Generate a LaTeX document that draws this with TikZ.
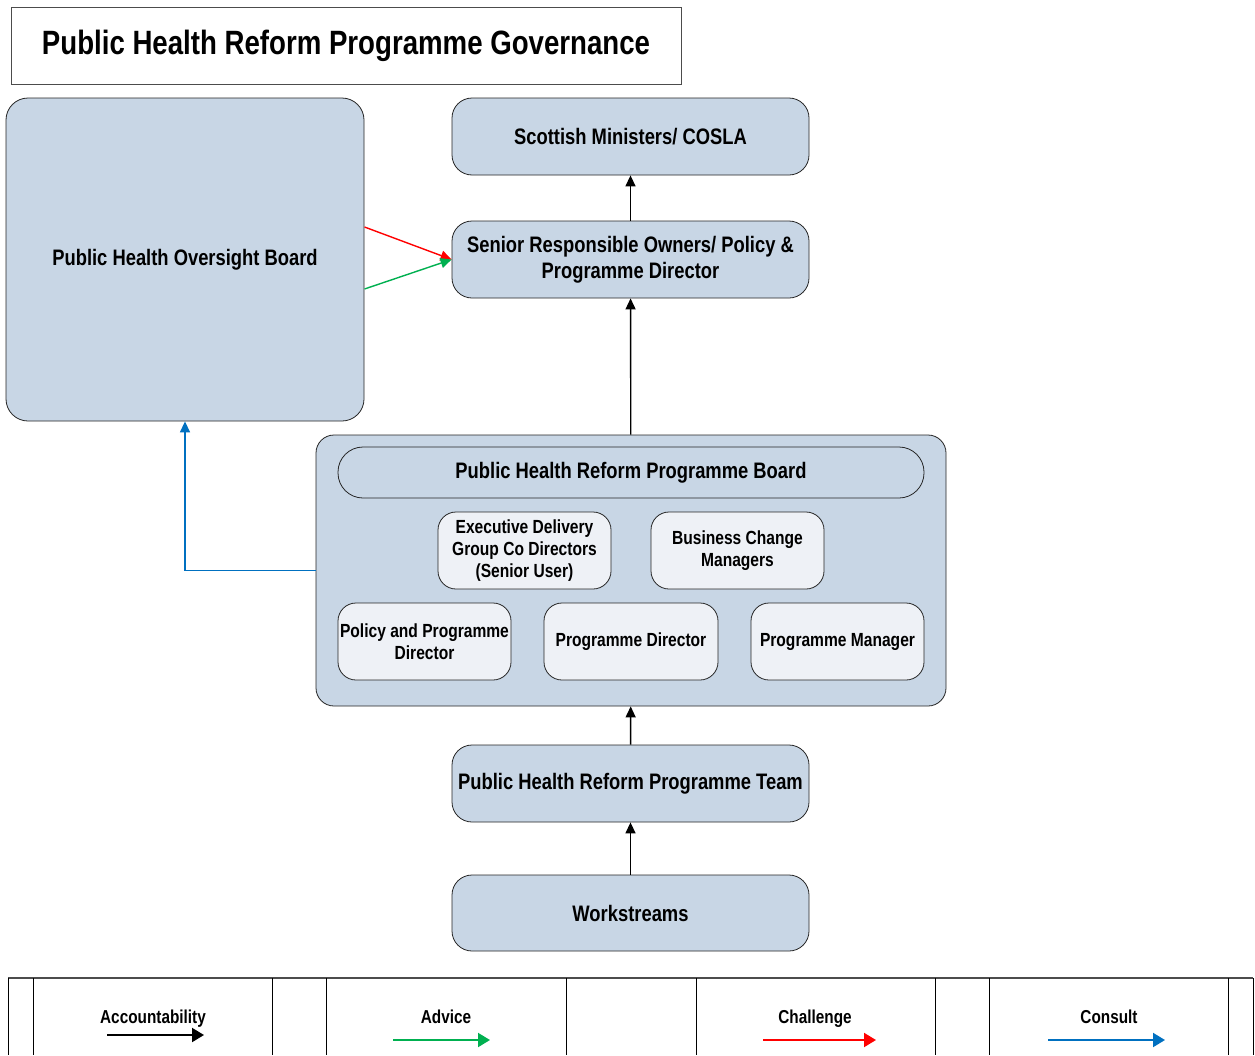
\documentclass[tikz,border=0pt]{standalone}
\usepackage{fontspec}
\setmainfont{Liberation Sans}[FakeStretch=0.82]
\usetikzlibrary{arrows.meta,calc}
\definecolor{boxblue}{RGB}{200,214,229}
\definecolor{innerfill}{RGB}{238,241,246}
\definecolor{advgreen}{RGB}{0,176,80}
\definecolor{chred}{RGB}{255,0,0}
\definecolor{conblue}{RGB}{0,112,192}
\tikzset{
  box/.style={draw=black!85, line width=0.8pt, fill=boxblue, rounded corners=20pt,
    align=center, inner sep=0pt, minimum width=357pt, minimum height=77pt,
    font=\bfseries\fontsize{22.4}{26}\selectfont},
  inner/.style={box, fill=innerfill, rounded corners=18pt, minimum width=173pt,
    font=\bfseries\fontsize{19}{22}\selectfont},
  arr/.style={line width=1.4pt, -{Triangle[length=11pt,width=10pt]}},
  legarr/.style={line width=2pt, -{Triangle[length=12pt,width=14pt]}},
  legtext/.style={font=\bfseries\fontsize{18.7}{20}\selectfont, inner sep=0pt, anchor=base},
  legline/.style={line width=0.6pt, draw=black}
}
\begin{document}
\begin{tikzpicture}[x=1pt,y=-1pt]
\useasboundingbox (0,0) rectangle (1255,1055);
\fill[white] (0,0) rectangle (1255,1055);
% title
\node[draw=black!70, line width=0.8pt, minimum width=670pt, minimum height=77pt, inner sep=0pt,
  font=\bfseries\fontsize{33.7}{38}\selectfont] (title) at (346,45.5) {Public Health Reform Programme Governance};
% main nodes
\node[box, rounded corners=22pt, minimum width=358pt, minimum height=323pt] (oversight) at (185,259.5) {Public Health Oversight Board};
\node[box] (ministers) at (630.5,136.5) {Scottish Ministers/ COSLA};
\node[box] (sro) at (630.5,259.5) {Senior Responsible Owners/ Policy \&\\Programme Director};
\node[box, rounded corners=18pt, minimum width=630pt, minimum height=271pt] (container) at (631,570.5) {};
\node[box, rounded corners=25pt, minimum width=586pt, minimum height=51pt] (board) at (631,472.5) {Public Health Reform Programme Board};
\node[inner] (exec) at (524.5,550.5) {Executive Delivery\\Group Co Directors\\(Senior User)};
\node[inner] (bcm) at (737.5,550.5) {Business Change\\Managers};
\node[inner] (ppd) at (424.5,641.5) {Policy and Programme\\Director};
\node[inner, minimum width=174pt] (pd) at (631,641.5) {Programme Director};
\node[inner] (pm) at (837.5,641.5) {Programme Manager};
\node[box] (team) at (630.5,783.5) {Public Health Reform Programme Team};
\node[box, minimum height=76pt] (work) at (630.5,913) {Workstreams};
% connectors
\draw[arr] (sro) -- (ministers);
\draw[arr] (container) -- (sro);
\draw[arr] (team) -- (container);
\draw[arr] (work) -- (team);
\coordinate (redstart) at (364.5,227);
\coordinate (greenstart) at (364.5,289);
\draw[arr, chred] (redstart) -- (sro.west);
\draw[arr, advgreen] (greenstart) -- (sro.west);
\draw[arr, conblue] (container.west) -| (oversight.south);
% legend
\draw[line width=1.2pt, draw=black!70] (8,978) -- (1253,978);
\foreach \x in {8,33,272,326,566,696,935,989,1228,1253}
  \draw[legline] (\x,978) -- (\x,1055);
\node[legtext] (lacc) at (153,1023) {Accountability};
\node[legtext] (ladv) at (446,1023) {Advice};
\node[legtext] (lch) at (815,1023) {Challenge};
\node[legtext] (lcon) at (1109,1023) {Consult};
\coordinate (a1) at (107,1035); \coordinate (a2) at (204,1035);
\coordinate (b1) at (393,1040); \coordinate (b2) at (490,1040);
\coordinate (c1) at (763,1040); \coordinate (c2) at (876,1040);
\coordinate (d1) at (1048,1040); \coordinate (d2) at (1165,1040);
\draw[legarr] (a1) -- (a2);
\draw[legarr, advgreen] (b1) -- (b2);
\draw[legarr, chred] (c1) -- (c2);
\draw[legarr, conblue] (d1) -- (d2);
\end{tikzpicture}
\end{document}
